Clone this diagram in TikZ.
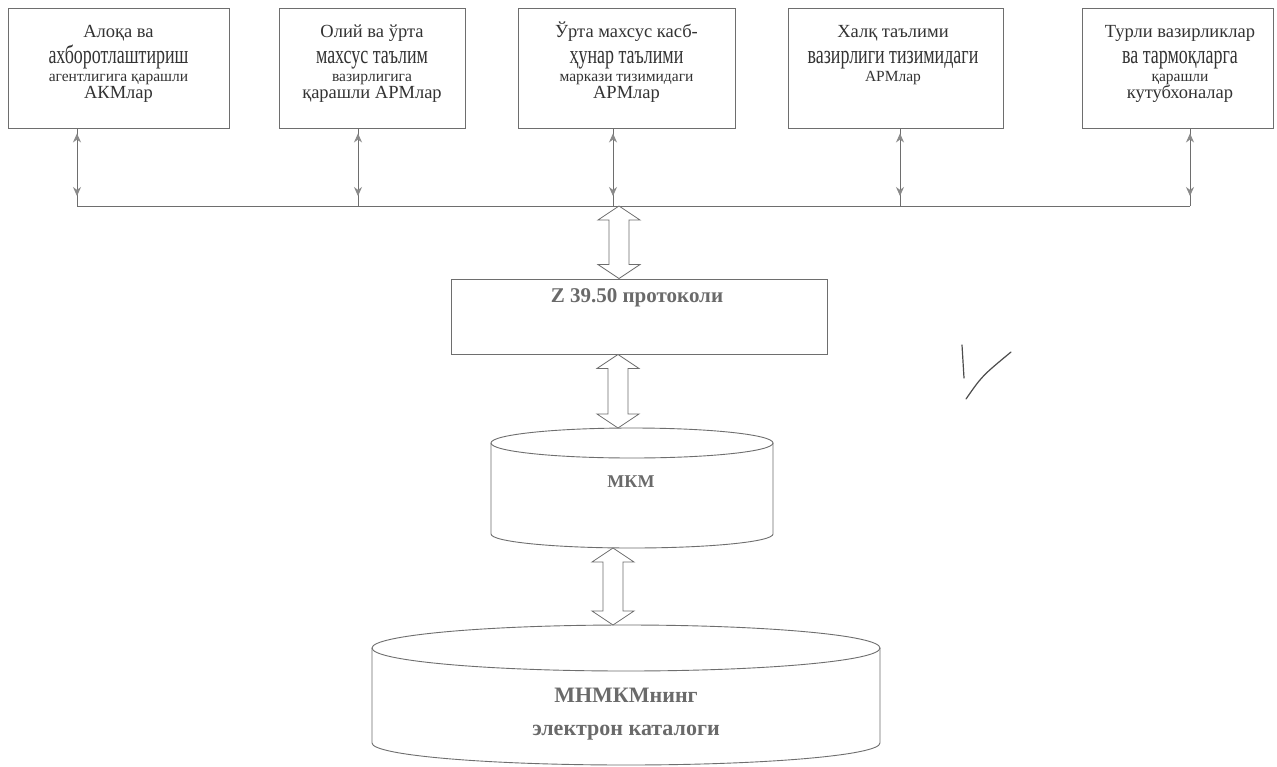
\documentclass[tikz,border=0pt]{standalone}
\usepackage{fontspec}
\setmainfont{Liberation Serif}
\newfontfamily\condf[FakeStretch=0.69]{Liberation Serif}
\usetikzlibrary{calc,arrows.meta}
\definecolor{linegray}{HTML}{6E6E6E}
\definecolor{headgray}{HTML}{8A8A8A}
\definecolor{textgray}{HTML}{333333}
\definecolor{fadegray}{HTML}{6A6A6A}
\newcommand\txN{\fontsize{18.5}{21}\selectfont}
\newcommand\txC{\condf\fontsize{26}{28}\selectfont}
\newcommand\txS{\fontsize{15.5}{18}\selectfont}
\newcommand\hollowarrow[2]{\draw[hollow] (#1) -- ++(21,14) -- ++(-11,0) -- ($(#2)+(10,-14)$) -- ++(11,0) -- (#2) -- ++(-21,-14) -- ++(11,0) -- ($(#1)+(-10,14)$) -- ++(-11,0) -- cycle;}
\begin{document}
\begin{tikzpicture}[x=1pt,y=-1pt,
  box/.style={draw=linegray, line width=0.9pt, minimum height=120pt, inner sep=0pt},
  lbl/.style={anchor=base, text=textgray, inner sep=0pt},
  bld/.style={anchor=base, text=fadegray, inner sep=0pt},
  thin/.style={draw=linegray, line width=0.8pt},
  smalldbl/.style={draw=linegray, line width=0.8pt, {Stealth[length=9pt,width=8pt,color=headgray,fill=headgray]}-{Stealth[length=9pt,width=8pt,color=headgray,fill=headgray]}},
  hollow/.style={draw=linegray, line width=0.8pt, fill=white, line join=miter},
  cyl/.style={draw=linegray, line width=0.9pt},
  tick/.style={draw=black!70, line width=1.2pt, line cap=round}]
\useasboundingbox (0,0) rectangle (1277,766);
\fill[white] (0,0) rectangle (1277,766);

% top boxes
\node[box, minimum width=221pt] (b1) at (118.5,68) {};
\node[box, minimum width=186pt] (b2) at (372,68) {};
\node[box, minimum width=217pt] (b3) at (626.5,68) {};
\node[box, minimum width=215pt] (b4) at (895.5,68) {};
\node[box, minimum width=191pt] (b5) at (1177.5,68) {};

\node[lbl, font=\txN] (b1a) at (118.5,37) {Алоқа ва};
\node[lbl, font=\txC] (b1b) at (118.5,63) {ахборотлаштириш};
\node[lbl, font=\txS] (b1c) at (118.5,81) {агентлигига қарашли};
\node[lbl, font=\txN] (b1d) at (118.5,98) {АКМлар};

\node[lbl, font=\txN] (b2a) at (372,37) {Олий ва ўрта};
\node[lbl, font=\txC] (b2b) at (372,63) {махсус таълим};
\node[lbl, font=\txS] (b2c) at (372,81) {вазирлигига};
\node[lbl, font=\txN] (b2d) at (372,98) {қарашли АРМлар};

\node[lbl, font=\txN] (b3a) at (626.5,37) {Ўрта махсус касб-};
\node[lbl, font=\txC] (b3b) at (626.5,63) {ҳунар таълими};
\node[lbl, font=\txS] (b3c) at (626.5,81) {маркази тизимидаги};
\node[lbl, font=\txN] (b3d) at (626.5,98) {АРМлар};

\node[lbl, font=\txN] (b4a) at (893,37) {Халқ таълими};
\node[lbl, font=\txC] (b4b) at (893,63) {вазирлиги тизимидаги};
\node[lbl, font=\txS] (b4c) at (893,81) {АРМлар};

\node[lbl, font=\txN] (b5a) at (1180,37) {Турли вазирликлар};
\node[lbl, font=\txC] (b5b) at (1180,63) {ва тармоқларга};
\node[lbl, font=\txS] (b5c) at (1180,81) {қарашли};
\node[lbl, font=\txN] (b5d) at (1180,98) {кутубхоналар};

% bus
\coordinate (j1) at (77,206);
\coordinate (j2) at (358,206);
\coordinate (j3) at (613,206);
\coordinate (j4) at (900,206);
\coordinate (j5) at (1190,206);
\draw[thin] (j1) -- (j5);
\foreach \i in {1,...,5}{
  \draw[thin] (b\i.south -| j\i) -- (j\i);
  \draw[smalldbl] ($(b\i.south -| j\i)+(0,5)$) -- ($(j\i)+(0,-10)$);
}

% Z box
\node[box, minimum width=376pt, minimum height=75pt] (z) at (639,316.5) {};
\node[bld, font=\fontsize{21}{24}\selectfont\bfseries] (zt) at (637,302) {Z 39.50 протоколи};

% MKM cylinder
\draw[cyl] (632,443) ellipse [x radius=141pt, y radius=15pt];
\draw[cyl] (491,443) -- (491,534) arc[start angle=180, end angle=360, x radius=141pt, y radius=14pt] -- (773,443);
\node[bld, font=\fontsize{18}{20}\selectfont\bfseries] (mkm) at (631,487) {МКМ};
\coordinate (mkmtop) at (618,428);
\coordinate (mkmbot) at (613,548);

% big cylinder
\draw[cyl] (626,648) ellipse [x radius=254pt, y radius=23pt];
\draw[cyl] (372,648) -- (372,743) arc[start angle=180, end angle=360, x radius=254pt, y radius=22pt] -- (880,648);
\node[bld, font=\fontsize{22}{24}\selectfont\bfseries] (db1) at (626,702) {МНМКМнинг};
\node[bld, font=\fontsize{22}{24}\selectfont\bfseries] (db2) at (626,735) {электрон каталоги};
\coordinate (dbtop) at (613,625);

% hollow double arrows
\coordinate (h1) at (619,206);
\hollowarrow{h1}{z.north -| h1}
\coordinate (h2) at (618,355);
\hollowarrow{z.south -| h2}{mkmtop}
\hollowarrow{mkmbot}{dbtop}

% tick mark
\draw[tick] (962,345) -- (964,378);
\draw[tick] (966,399) .. controls (982,376) .. (1011,352);
\end{tikzpicture}
\end{document}
